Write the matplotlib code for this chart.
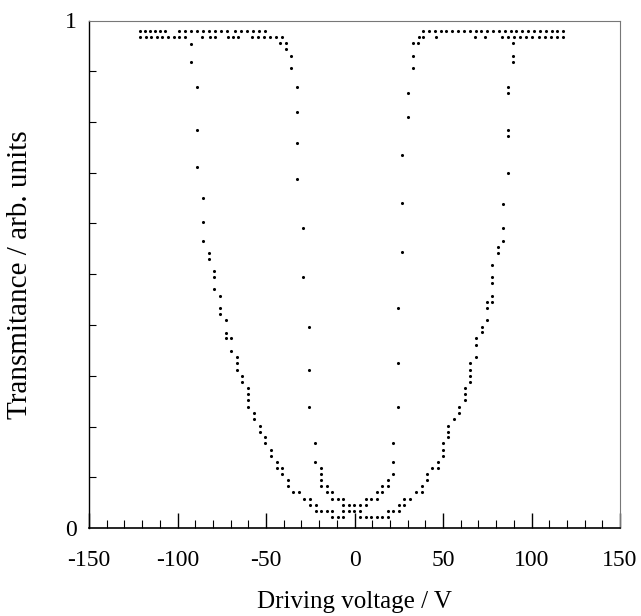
import numpy as np
import matplotlib
matplotlib.use("Agg")
import matplotlib.pyplot as plt
from matplotlib.ticker import MultipleLocator, FixedLocator

plt.rcParams['font.family'] = ['Liberation Serif', 'DejaVu Serif']
plt.rcParams['axes.unicode_minus'] = False

# plateau rows at the top (V, T)
top_row_v = [-121.2, -118.4, -115.5, -112.7, -109.9, -107.1,
             -99.2, -95.8, -92.4, -89.0, -85.6, -82.2, -78.8, -75.4, -72.0,
             -67.5, -64.1, -60.7, -57.3, -53.9, -50.6,
             38.7, 42.0, 45.3, 48.6, 51.9, 55.2, 58.5, 61.8, 65.1, 68.4, 71.7,
             75.0, 78.3, 81.6, 84.9, 88.2, 91.5, 94.8, 98.1, 101.4, 104.7,
             108.0, 111.3, 114.6, 117.9]
top_row_t = 0.979

second_row_v = [-121.2, -118.0, -115.0, -111.6, -108.5, -105.4, -102.0, -98.9, -95.8,
                -86.2, -81.6, -78.8, -71.5, -68.6, -65.8,
                -57.9, -54.5, -51.1, -47.7, -44.4, -41.0,
                36.2, 38.9, 46.3, 67.8, 74.0,
                83.3, 86.7, 90.2, 93.6, 97.1, 100.5, 104.0, 107.4, 110.9, 114.3, 117.8]
second_row_t = 0.967

# outer loop, left branch
outer_left_v = [-92.4, -92.4, -89.0, -89.0, -89.0, -85.6, -85.6, -85.6, -82.2, -82.2,
                -79.4, -79.4, -79.4, -76.0, -76.0, -76.0, -72.6, -72.6, -72.6, -69.8,
                -69.8, -66.4, -66.4, -66.4, -63.6, -63.6, -60.2, -60.2, -60.2, -60.2,
                -56.8, -56.8, -53.4, -53.4, -50.6, -50.6, -47.2, -47.2, -43.8, -43.8,
                -41.0, -41.0, -37.6, -37.6, -34.7, -31.4, -28.5, -25.1, -25.1, -21.8,
                -21.8, -18.9, -15.5, -12.7, -12.7, -9.3, -6.5,
                -6.5, -3.1, -0.3, 3.1]
outer_left_t = [0.954, 0.918, 0.869, 0.784, 0.711, 0.650, 0.603, 0.565, 0.542, 0.530,
                0.506, 0.495, 0.471, 0.457, 0.433, 0.422, 0.410, 0.384, 0.374, 0.374,
                0.349, 0.337, 0.325, 0.311, 0.300, 0.288, 0.276, 0.264, 0.252, 0.238,
                0.227, 0.215, 0.201, 0.189, 0.179, 0.167, 0.154, 0.142, 0.130, 0.118,
                0.118, 0.106, 0.095, 0.083, 0.071, 0.071, 0.057, 0.057, 0.045, 0.045,
                0.033, 0.033, 0.033, 0.033, 0.022, 0.022, 0.022,
                0.033, 0.033, 0.033, 0.033]

# outer loop, right branch
outer_right_v = [3.1, 6.5, 9.3, 12.7, 15.5, 18.9, 18.9, 21.8, 25.1, 25.1,
                 28.0, 28.0, 31.4, 34.7, 38.1, 38.1, 41.0, 41.0, 43.8, 47.2,
                 47.2, 50.0, 50.0, 50.0, 52.8, 52.8, 52.8, 56.2, 59.0, 59.0,
                 62.4, 62.4, 62.4, 65.3, 65.3, 65.3, 65.3, 68.6, 68.6, 68.6,
                 72.0, 72.0, 74.9, 74.9, 74.9, 77.7, 77.7, 77.7, 77.7, 77.7,
                 81.1, 81.1, 83.9, 83.9, 83.9, 86.7, 86.7, 86.7, 86.7, 86.7,
                 89.5, 89.5, 89.5]
outer_right_t = [0.022, 0.022, 0.022, 0.022, 0.022, 0.022, 0.033, 0.033, 0.033, 0.045,
                 0.045, 0.057, 0.057, 0.071, 0.071, 0.083, 0.095, 0.106, 0.118, 0.118,
                 0.130, 0.142, 0.154, 0.167, 0.179, 0.189, 0.201, 0.215, 0.227, 0.238,
                 0.252, 0.264, 0.276, 0.288, 0.300, 0.311, 0.325, 0.337, 0.361, 0.374,
                 0.386, 0.396, 0.410, 0.433, 0.445, 0.445, 0.457, 0.483, 0.495, 0.518,
                 0.542, 0.554, 0.565, 0.591, 0.638, 0.700, 0.772, 0.784, 0.857, 0.869,
                 0.918, 0.930, 0.956]

# inner loop, left branch
inner_left_v = [-42.1, -38.7, -38.7, -35.9, -35.9, -32.5, -32.5, -32.5, -32.5, -29.1,
                -29.1, -25.7, -25.7, -25.7, -22.3, -22.3, -18.9, -18.9, -18.9, -18.9,
                -15.5, -15.5, -12.7, -12.7, -9.3, -6.5, -6.5, -3.1, -0.3]
inner_left_t = [0.956, 0.956, 0.944, 0.930, 0.906, 0.869, 0.820, 0.758, 0.688, 0.591,
                0.495, 0.396, 0.311, 0.238, 0.167, 0.130, 0.118, 0.106, 0.095, 0.083,
                0.083, 0.071, 0.071, 0.057, 0.057, 0.057, 0.045, 0.045, 0.045]

# inner loop, right branch
inner_right_v = [33.1, 35.9, 33.1, 33.1, 30.2, 30.2, 26.8, 26.8, 26.8, 24.6,
                 24.6, 24.6, 21.8, 21.8, 21.8, 18.9, 18.9, 15.5, 15.5, 12.7,
                 12.7, 9.3, 6.5, 6.5, 3.1]
inner_right_t = [0.956, 0.956, 0.930, 0.906, 0.857, 0.810, 0.735, 0.640, 0.544, 0.433,
                 0.325, 0.238, 0.167, 0.130, 0.106, 0.095, 0.083, 0.083, 0.071, 0.071,
                 0.057, 0.057, 0.057, 0.045, 0.045]

fig = plt.figure(figsize=(6.41, 6.16), dpi=100)
ax = fig.add_axes([89 / 641, 88 / 616, 531 / 641, 507.5 / 616])

dot = dict(s=5, c='black', marker='o', linewidths=0)
ax.scatter(top_row_v, [top_row_t] * len(top_row_v), **dot)
ax.scatter(second_row_v, [second_row_t] * len(second_row_v), **dot)
ax.scatter(outer_left_v, outer_left_t, **dot)
ax.scatter(outer_right_v, outer_right_t, **dot)
ax.scatter(inner_left_v, inner_left_t, **dot)
ax.scatter(inner_right_v, inner_right_t, **dot)

ax.set_xlim(-150, 150)
ax.set_ylim(0, 1)

ax.xaxis.set_major_locator(MultipleLocator(50))
ax.xaxis.set_minor_locator(MultipleLocator(10))
ax.yaxis.set_major_locator(FixedLocator([0, 1]))
ax.yaxis.set_minor_locator(MultipleLocator(0.1))
ax.set_yticklabels(['0', '1'])

ax.tick_params(axis='x', which='major', direction='in', length=11, width=1,
               labelsize=17, pad=16, top=False)
ax.tick_params(axis='x', which='minor', direction='in', length=6, width=0.8, top=False)
ax.tick_params(axis='y', which='major', direction='in', length=0,
               labelsize=17, pad=9, right=False)
ax.tick_params(axis='y', which='minor', direction='in', length=5, width=0.8, right=False)

for side in ['top', 'right']:
    ax.spines[side].set_color('#777777')
    ax.spines[side].set_linewidth(0.8)
ax.spines['bottom'].set_linewidth(1.2)
ax.spines['left'].set_linewidth(1.0)

ax.set_xlabel('Driving voltage / V', fontsize=18)
ax.set_ylabel('Transmitance / arb. units', fontsize=21)
ax.xaxis.set_label_coords(0.5, -0.125)
ax.yaxis.set_label_coords(-0.105, 0.5)

fig.savefig('out.png', dpi=100)
